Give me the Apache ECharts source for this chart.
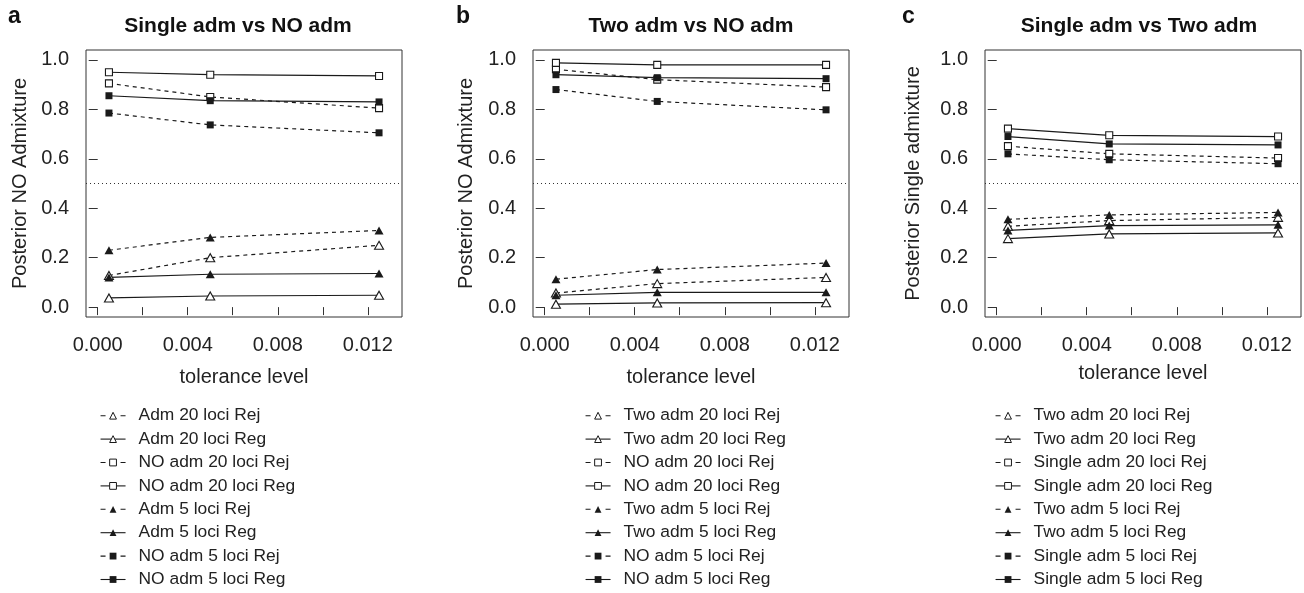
<!DOCTYPE html>
<html>
<head>
<meta charset="utf-8">
<script src="https://cdn.jsdelivr.net/npm/echarts@6/dist/echarts.min.js"></script>
<style>
html, body { margin: 0; padding: 0; background: #fff; }
#chart { width: 1304px; height: 593px; }
</style>
</head>
<body>
<div id="chart"></div>
<script>
// tolerance levels (x) and axis ticks
var tolerance = [0.0005, 0.005, 0.0125];
var xTicks = [0, 0.002, 0.004, 0.006, 0.008, 0.010, 0.012];
var xLabels = [0, 0.004, 0.008, 0.012];
var yTicks = [0, 0.2, 0.4, 0.6, 0.8, 1.0];

// a: Single adm vs NO adm
var aAdm20Rej = [0.128, 0.200, 0.250];
var aAdm20Reg = [0.037, 0.045, 0.048];
var aNo20Rej = [0.905, 0.850, 0.805];
var aNo20Reg = [0.950, 0.940, 0.935];
var aAdm5Rej = [0.230, 0.282, 0.310];
var aAdm5Reg = [0.120, 0.133, 0.136];
var aNo5Rej = [0.785, 0.737, 0.705];
var aNo5Reg = [0.855, 0.835, 0.830];

// b: Two adm vs NO adm
var bTwo20Rej = [0.057, 0.095, 0.120];
var bTwo20Reg = [0.012, 0.017, 0.018];
var bNo20Rej = [0.962, 0.920, 0.890];
var bNo20Reg = [0.988, 0.980, 0.980];
var bTwo5Rej = [0.113, 0.152, 0.178];
var bTwo5Reg = [0.048, 0.060, 0.060];
var bNo5Rej = [0.880, 0.832, 0.798];
var bNo5Reg = [0.940, 0.928, 0.924];

// c: Single adm vs Two adm
var cTwo20Rej = [0.327, 0.350, 0.363];
var cTwo20Reg = [0.277, 0.296, 0.300];
var cSingle20Rej = [0.651, 0.620, 0.603];
var cSingle20Reg = [0.722, 0.695, 0.690];
var cTwo5Rej = [0.355, 0.373, 0.383];
var cTwo5Reg = [0.310, 0.330, 0.333];
var cSingle5Rej = [0.620, 0.596, 0.580];
var cSingle5Reg = [0.690, 0.660, 0.656];

var namesA = ['Adm 20 loci Rej', 'Adm 20 loci Reg', 'NO adm 20 loci Rej', 'NO adm 20 loci Reg',
	'Adm 5 loci Rej', 'Adm 5 loci Reg', 'NO adm 5 loci Rej', 'NO adm 5 loci Reg'];
var namesB = ['Two adm 20 loci Rej', 'Two adm 20 loci Reg', 'NO adm 20 loci Rej', 'NO adm 20 loci Reg',
	'Two adm 5 loci Rej', 'Two adm 5 loci Reg', 'NO adm 5 loci Rej', 'NO adm 5 loci Reg'];
var namesC = ['Two adm 20 loci Rej', 'Two adm 20 loci Reg', 'Single adm 20 loci Rej', 'Single adm 20 loci Reg',
	'Two adm 5 loci Rej', 'Two adm 5 loci Reg', 'Single adm 5 loci Rej', 'Single adm 5 loci Reg'];

var font = 'Liberation Sans, Arial, Helvetica, sans-serif';
var ink = '#1a1a1a';

// same order as the legends: open tri, open square, filled tri, filled square; Rej dashed, Reg solid
function panelSeries(names, values, gi) {
	var shapes = ['triangle', 'triangle', 'rect', 'rect', 'triangle', 'triangle', 'rect', 'rect'];
	return names.map(function (n, i) {
		var filled = i >= 4;
		var s = {
			name: n,
			type: 'line',
			xAxisIndex: gi,
			yAxisIndex: gi,
			symbol: shapes[i],
			symbolSize: shapes[i] === 'triangle' ? [9, 8] : 7,
			lineStyle: { color: ink, width: 1.2, type: i % 2 === 0 ? [4, 4] : 'solid' },
			itemStyle: filled ? { color: ink } : { color: '#fff', borderColor: ink, borderWidth: 1.1 },
			emphasis: { disabled: true },
			data: tolerance.map(function (t, k) { return [t, values[i][k]]; })
		};
		if (i === 0) {
			s.markLine = {
				silent: true, symbol: 'none', label: { show: false },
				lineStyle: { type: [1, 3], color: '#333', width: 1 },
				data: [{ yAxis: 0.5 }]
			};
		}
		return s;
	});
}

function xAxisFor(gi, gap) {
	return {
		type: 'value', gridIndex: gi, min: -0.00052, max: 0.01352,
		name: 'tolerance level', nameLocation: 'middle', nameGap: gap,
		nameTextStyle: { fontSize: 20, color: '#222', fontFamily: font },
		axisLine: { show: false }, splitLine: { show: false },
		axisTick: { show: true, length: 8, lineStyle: { color: '#333' }, customValues: xTicks },
		axisLabel: {
			customValues: xLabels, margin: 18, fontSize: 20, color: '#222', fontFamily: font,
			formatter: function (v) { return v.toFixed(3); }
		}
	};
}

function yAxisFor(gi, title, gap) {
	return {
		type: 'value', gridIndex: gi, min: -0.04, max: 1.04,
		name: title, nameLocation: 'middle', nameGap: gap,
		nameTextStyle: { fontSize: 20, color: '#222', fontFamily: font },
		axisLine: { show: false }, splitLine: { show: false },
		axisTick: { show: true, length: 9, lineStyle: { color: '#333' }, customValues: yTicks },
		axisLabel: {
			customValues: yTicks, margin: 17, fontSize: 20, color: '#222', fontFamily: font,
			formatter: function (v) { return v.toFixed(1); }
		}
	};
}

function legendFor(names, left) {
	return {
		orient: 'vertical', left: left, top: 404, padding: 0,
		itemWidth: 25, itemHeight: 8.5, itemGap: 0, selectedMode: false,
		textStyle: { fontFamily: font, fontSize: 17.4, color: '#222', lineHeight: 23.4, padding: [0, 0, 0, 8] },
		itemStyle: { borderWidth: 1 },
		lineStyle: { width: 1.1 },
		data: names.map(function (n, i) {
			return { name: n, lineStyle: { type: i % 2 === 0 ? [5, 15] : 'solid' } };
		})
	};
}

function label(text, x, y, size, align) {
	return {
		type: 'text', x: x, y: y,
		style: { text: text, fill: '#111', font: 'bold ' + size + 'px ' + font, align: align, verticalAlign: 'middle' }
	};
}

var myChart = echarts.init(document.getElementById('chart'));
var gridBox = { top: 50, width: 316, height: 267, show: true, borderColor: '#333', borderWidth: 1 };
var option = {
	animation: false,
	backgroundColor: '#fff',
	grid: [
		Object.assign({ left: 86 }, gridBox),
		Object.assign({ left: 533 }, gridBox),
		Object.assign({ left: 985 }, gridBox)
	],
	xAxis: [xAxisFor(0, 50), xAxisFor(1, 50), xAxisFor(2, 46)],
	yAxis: [
		yAxisFor(0, 'Posterior NO Admixture', 56),
		yAxisFor(1, 'Posterior NO Admixture', 57),
		yAxisFor(2, 'Posterior Single admixture', 62)
	],
	legend: [legendFor(namesA, 100), legendFor(namesB, 585), legendFor(namesC, 995)],
	graphic: [
		label('a', 8, 17, 23, 'left'),
		label('b', 456, 17, 23, 'left'),
		label('c', 902, 17, 23, 'left'),
		label('Single adm vs NO adm', 238, 26, 21, 'center'),
		label('Two adm vs NO adm', 691, 26, 21, 'center'),
		label('Single adm vs Two adm', 1139, 26, 21, 'center')
	],
	series: [].concat(
		panelSeries(namesA, [aAdm20Rej, aAdm20Reg, aNo20Rej, aNo20Reg, aAdm5Rej, aAdm5Reg, aNo5Rej, aNo5Reg], 0),
		panelSeries(namesB, [bTwo20Rej, bTwo20Reg, bNo20Rej, bNo20Reg, bTwo5Rej, bTwo5Reg, bNo5Rej, bNo5Reg], 1),
		panelSeries(namesC, [cTwo20Rej, cTwo20Reg, cSingle20Rej, cSingle20Reg, cTwo5Rej, cTwo5Reg, cSingle5Rej, cSingle5Reg], 2)
	)
};
myChart.setOption(option, true);
</script>
</body>
</html>
